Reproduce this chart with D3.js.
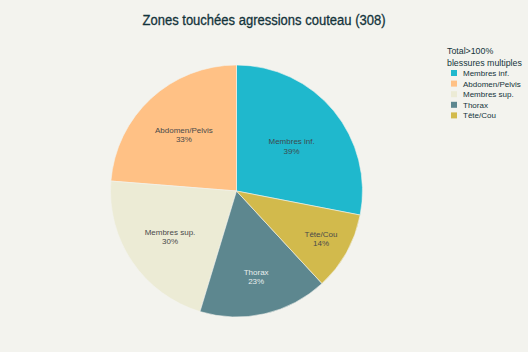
<!DOCTYPE html>
<html>
<head>
<meta charset="utf-8">
<script src="https://cdn.jsdelivr.net/npm/d3@7"></script>
<style>
  body { margin: 0; background: #F3F3EE; }
  svg { font-family: "Liberation Sans", Arial, sans-serif; }
</style>
</head>
<body>
<svg id="chart" width="528" height="352"></svg>
<script>
// data, in legend order (largest first)
const zones = ["Membres inf.", "Abdomen/Pelvis", "Membres sup.", "Thorax", "Tête/Cou"];
const percents = [39, 33, 30, 23, 14];
const colors = ["#1FB8CD", "#FFC185", "#ECEBD5", "#5D878F", "#D2BA4C"];
const labelColors = ["#3d4a4d", "#4a4a4a", "#4a4a4a", "#e8eeee", "#4a4a4a"];
const titleText = "Zones touchées agressions couteau (308)";
const legendTitle = ["Total>100%", "blessures multiples"];

const width = 528, height = 352;
const cx = 236.5, cy = 191, radius = 126;

const svg = d3.select("#chart");
svg.append("rect").attr("width", width).attr("height", height).attr("fill", "#F3F3EE");

svg.append("text")
  .attr("x", 264).attr("y", 25)
  .attr("text-anchor", "middle")
  .attr("textLength", 243)
  .attr("lengthAdjust", "spacingAndGlyphs")
  .style("font-size", "14px")
  .attr("fill", "#13343B")
  .attr("stroke", "#13343B")
  .attr("stroke-width", 0.3)
  .text(titleText);

const rows = zones.map((z, i) => ({ zone: z, value: percents[i], i }));

// first slice sits just right of 12 o'clock, the rest follow counter-clockwise
const a0 = 2 * Math.PI * percents[0] / d3.sum(percents);
const pie = d3.pie().sort(null).value(d => d.value)
  .startAngle(a0).endAngle(a0 - 2 * Math.PI);
const arc = d3.arc().innerRadius(0).outerRadius(radius);

const g = svg.append("g").attr("transform", `translate(${cx},${cy})`);
const arcs = pie(rows);

g.selectAll(".slice")
  .data(arcs)
  .join("path")
    .attr("class", "slice")
    .attr("d", arc)
    .attr("fill", d => colors[d.data.i])
    .attr("stroke", "#F3F3EE")
    .attr("stroke-width", 0.6);

// narrower slices push their label further out
const labelPos = (d) => {
  const span = Math.abs(d.endAngle - d.startAngle) * 180 / Math.PI;
  const r = radius * (0.88 - 0.0031 * span);
  const a = (d.startAngle + d.endAngle) / 2;
  return [r * Math.sin(a), -r * Math.cos(a)];
};

const labels = g.selectAll(".lbl")
  .data(arcs)
  .join("text")
    .attr("class", "lbl")
    .attr("text-anchor", "middle")
    .attr("transform", d => `translate(${labelPos(d)})`)
    .style("font-size", "8px")
    .attr("fill", d => labelColors[d.data.i]);
labels.append("tspan").attr("x", 0).attr("y", -1.5).text(d => d.data.zone);
labels.append("tspan").attr("x", 0).attr("y", 8).text(d => d.data.value + "%");

// legend
const legend = svg.append("g").attr("transform", "translate(447,0)");
legend.selectAll(".lt")
  .data(legendTitle)
  .join("text")
    .attr("class", "lt")
    .attr("x", 0)
    .attr("y", (d, i) => 54 + i * 11.5)
    .style("font-size", "8.8px")
    .attr("fill", "#13343B")
    .text(d => d);

const item = legend.selectAll(".li")
  .data(rows)
  .join("g")
    .attr("class", "li")
    .attr("transform", d => `translate(0,${73 + d.i * 10.6})`);
item.append("rect")
  .attr("x", 4).attr("y", -3).attr("width", 6).attr("height", 6)
  .attr("fill", d => colors[d.i]);
item.append("text")
  .attr("x", 16).attr("y", 3)
  .style("font-size", "8px")
  .attr("fill", "#13343B")
  .text(d => d.zone);
</script>
</body>
</html>
